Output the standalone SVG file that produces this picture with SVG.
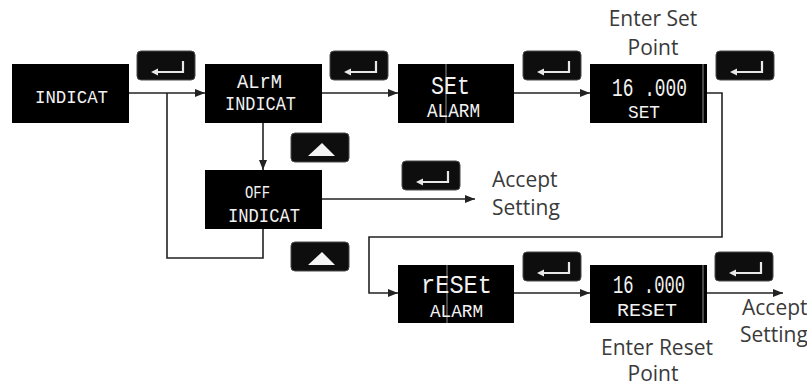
<svg xmlns="http://www.w3.org/2000/svg" width="807" height="386" viewBox="0 0 807 386">
<defs>
<marker id="ah" markerWidth="10" markerHeight="8" refX="10" refY="4" orient="auto" markerUnits="userSpaceOnUse">
<path d="M0,0 L10,4 L0,8 Z" fill="#222"/>
</marker>
<g id="enter">
<rect x="0" y="0" width="58" height="29" rx="4" fill="#0e0e0e" stroke="#4a4a4a" stroke-width="1"/>
<path d="M46,10 V21 H20" fill="none" stroke="#e8e8e8" stroke-width="2.2"/>
<path d="M14,21 L21,17.5 L21,24.5 Z" fill="#e8e8e8"/>
</g>
<g id="up">
<rect x="0" y="0" width="58" height="29" rx="4" fill="#0e0e0e" stroke="#4a4a4a" stroke-width="1"/>
<path d="M31,10 L44,23 L17,23 Z" fill="#f4f4f4"/>
</g>
</defs>
<style>
.node{fill:#000}
.lcd{fill:#f2f2f2;font-family:"Liberation Mono","DejaVu Sans Mono",monospace}
.gl{stroke:#777;stroke-width:1.2}
.conn{fill:none;stroke:#222;stroke-width:1.6}
.lbl{fill:#3a3a3a;font-family:"Open Sans","Noto Sans",sans-serif;font-size:21px}
</style>

<g id="connectors">
<path class="conn" d="M129,93 H205" marker-end="url(#ah)"/>
<path class="conn" d="M322,93 H398" marker-end="url(#ah)"/>
<path class="conn" d="M514,93 H590" marker-end="url(#ah)"/>
<path class="conn" d="M263,123 V170" marker-end="url(#ah)"/>
<path class="conn" d="M322,199 H475" marker-end="url(#ah)"/>
<path class="conn" d="M167,93 V258 H263 V229"/>
<path class="conn" d="M707,93 H722 V237 H369 V293 H398" marker-end="url(#ah)"/>
<path class="conn" d="M514,293 H590" marker-end="url(#ah)"/>
<path class="conn" d="M707,293 H783" marker-end="url(#ah)"/>
</g>

<g id="btn-enter-1"><use href="#enter" x="137" y="51"/></g>
<g id="btn-enter-2"><use href="#enter" x="330" y="51"/></g>
<g id="btn-enter-3"><use href="#enter" x="523" y="51"/></g>
<g id="btn-enter-4"><use href="#enter" x="716" y="51"/></g>
<g id="btn-up-1"><use href="#up" x="291" y="133"/></g>
<g id="btn-enter-off"><use href="#enter" x="402" y="161"/></g>
<g id="btn-up-2"><use href="#up" x="291" y="242"/></g>
<g id="btn-enter-5"><use href="#enter" x="523" y="252"/></g>
<g id="btn-enter-6"><use href="#enter" x="715" y="252"/></g>

<g id="node-indicat">
<rect class="node" x="12" y="64" width="117" height="59"/>
<text class="lcd" x="35" y="103" font-size="19" textLength="73" lengthAdjust="spacingAndGlyphs">INDICAT</text>
</g>
<g id="node-alrm">
<rect class="node" x="205" y="64" width="117" height="59"/>
<text class="lcd" x="237" y="88" font-size="21" textLength="45" lengthAdjust="spacingAndGlyphs">ALrM</text>
<text class="lcd" x="225" y="110" font-size="21" textLength="71" lengthAdjust="spacingAndGlyphs">INDICAT</text>
</g>
<g id="node-set-alarm">
<rect class="node" x="398" y="64" width="116" height="59"/>
<line class="gl" x1="446" y1="64" x2="446" y2="123"/>
<text class="lcd" x="431" y="94" font-size="26" textLength="39" lengthAdjust="spacingAndGlyphs">SEt</text>
<text class="lcd" x="427" y="117" font-size="20" textLength="53" lengthAdjust="spacingAndGlyphs">ALARM</text>
</g>
<g id="node-set-value">
<rect class="node" x="590" y="64" width="117" height="59"/>
<line class="gl" x1="703" y1="64" x2="703" y2="123"/>
<text class="lcd" x="612" y="96" font-size="25" textLength="75" lengthAdjust="spacingAndGlyphs">16 .000</text>
<text class="lcd" x="628" y="118" font-size="19" textLength="32" lengthAdjust="spacingAndGlyphs">SET</text>
</g>
<g id="node-off">
<rect class="node" x="205" y="170" width="117" height="59"/>
<text class="lcd" x="245" y="198" font-size="19" textLength="25" lengthAdjust="spacingAndGlyphs">OFF</text>
<text class="lcd" x="228" y="222" font-size="21" textLength="72" lengthAdjust="spacingAndGlyphs">INDICAT</text>
</g>
<g id="node-reset-alarm">
<rect class="node" x="398" y="265" width="116" height="58"/>
<line class="gl" x1="447" y1="265" x2="447" y2="323"/>
<text class="lcd" x="421" y="293" font-size="25" textLength="71" lengthAdjust="spacingAndGlyphs">rESEt</text>
<text class="lcd" x="430" y="317" font-size="19" textLength="53" lengthAdjust="spacingAndGlyphs">ALARM</text>
</g>
<g id="node-reset-value">
<rect class="node" x="590" y="265" width="117" height="58"/>
<line class="gl" x1="703" y1="265" x2="703" y2="323"/>
<text class="lcd" x="613" y="293" font-size="25" textLength="72" lengthAdjust="spacingAndGlyphs">16 .000</text>
<text class="lcd" x="617" y="316" font-size="19" textLength="60" lengthAdjust="spacingAndGlyphs">RESET</text>
</g>

<g id="labels">
<text class="lbl" x="653" y="26" text-anchor="middle">Enter Set</text>
<text class="lbl" x="653" y="55" text-anchor="middle">Point</text>
<text class="lbl" x="492" y="187">Accept</text>
<text class="lbl" x="492" y="215">Setting</text>
<text class="lbl" x="742" y="315">Accept</text>
<text class="lbl" x="740" y="342">Setting</text>
<text class="lbl" x="657" y="355" text-anchor="middle">Enter Reset</text>
<text class="lbl" x="653" y="381" text-anchor="middle">Point</text>
</g>
</svg>
